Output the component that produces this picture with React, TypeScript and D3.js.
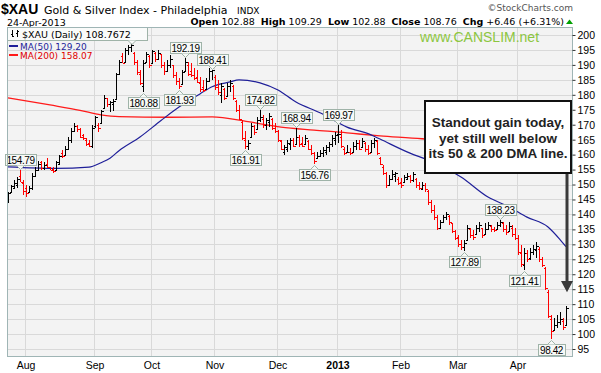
import React, { useEffect, useRef } from 'react';
import * as d3 from 'd3';

// daily bars, 24-Jul-2012 .. 24-Apr-2013 (one per trading day)
const opens = [
  144.5, 147.5, 149, 150, 153, 150.5, 149, 147.5, 149, 153, 155, 157.5, 155.5, 157, 155.8, 155.2, 155, 157, 160.5, 160,
  162, 165, 168, 169.5, 168.5, 166.5, 165, 164, 163, 169.5, 170, 170.5, 175.6, 179, 177, 177, 178.5, 187, 193, 191,
  195, 196, 194, 191, 187, 183, 191, 193, 190.5, 194, 192, 193.5, 190, 188, 190, 190, 186.5, 184.5, 183.5, 188,
  190, 188, 186.5, 186, 184, 182.5, 182, 184.5, 188, 186, 182.5, 180, 182, 179.5, 183, 183, 178, 175, 171, 165,
  163, 166, 169.5, 168.5, 171.5, 172, 170, 171, 172, 169, 168, 164.5, 161, 162, 163.5, 165, 163.5, 166, 164, 163.5,
  164.5, 162, 160.5, 159, 159.5, 160.5, 161, 162.5, 163.5, 165, 167, 166, 162, 160.9, 161, 161, 163, 164, 162.5, 164,
  162, 161, 164, 164.5, 159, 156, 154, 150, 152, 153, 152, 151, 151, 152, 153, 151.5, 152, 150, 148.5, 150,
  148, 144, 141.5, 139, 135.5, 137.5, 139, 139.5, 137, 134.5, 132.5, 130, 129, 131.5, 135, 133, 133.5, 135.5, 135.5, 133.5,
  135, 136, 135, 135, 136.5, 137, 135, 134.5, 135.5, 133.5, 132, 127, 123, 127, 125.5, 127.5, 128, 128.5, 125, 122,
  114, 105, 101.5, 103, 104, 104.5, 102.88
];
const highs = [
  147.5, 150, 151.5, 152.5, 154.79, 151.5, 150, 149.5, 153.8, 155.8, 158, 158, 157.5, 159, 156, 155.8, 158, 160, 161.5, 163,
  166, 169, 170.5, 170, 169, 167, 165.5, 165, 170, 173, 170.5, 175, 180, 179, 178, 178.5, 187.3, 191.6, 194, 195.5,
  196.7, 197.3, 194.3, 191.6, 188.3, 191.6, 194.3, 193.3, 195, 194.3, 195, 193.5, 191, 191.6, 193.3, 190, 187.6, 185.6, 188.3, 192.19,
  191, 190.6, 189, 188.3, 186, 185, 185.6, 189, 188.41, 186.6, 185, 184, 182.3, 184, 185, 183.3, 178.3, 176.6, 171.6, 168,
  164.9, 170.5, 170, 172.5, 174.82, 173.2, 172.2, 174, 172.2, 170.5, 168.2, 164.9, 163.2, 164.9, 165.5, 165.5, 168.94, 166.5, 165.8, 166.5,
  164.9, 163.2, 160.9, 160.9, 161.5, 162.5, 163.2, 164.2, 166.5, 167.5, 169.97, 168.2, 162.5, 163.2, 162.2, 164.2, 164.9, 164.9, 165.5, 164.2,
  163.2, 164.9, 165.5, 164.9, 159.2, 156.5, 154.2, 153.2, 154.8, 154.2, 152.5, 152.2, 153.2, 153.8, 153.2, 154.2, 152.2, 150.8, 150.8, 150.5,
  148.2, 144.8, 143.2, 139.8, 138.1, 139.8, 140.8, 139.8, 137.1, 134.8, 133.1, 131.4, 131.4, 136.5, 135.5, 134.8, 136.5, 137.5, 135.5, 137.1,
  137.5, 136.5, 135.8, 137.5, 138.23, 137.5, 136.5, 137.5, 136.5, 135.5, 133.1, 129.8, 128.8, 128.1, 128.8, 129.8, 130.8, 129.1, 125.8, 122.4,
  114.7, 106.4, 105.4, 106.4, 107.4, 105.4, 109.29
];
const lows = [
  143.8, 147.2, 148.5, 149, 150.8, 146.5, 145.8, 147, 148.2, 152.5, 154.8, 154.8, 155, 155.5, 154.8, 154, 154.5, 156.5, 159, 159.5,
  161.5, 164, 167.5, 167.5, 165.5, 165, 163, 162.5, 162.2, 169, 167.5, 170.5, 175.6, 176, 174.2, 174.5, 178.3, 186.6, 190.5, 191,
  193.3, 194.3, 190, 186.6, 183.3, 180.88, 191, 189, 190.5, 191, 192, 189, 186.6, 187.6, 189, 185.6, 183.3, 181.93, 183.3, 187.6,
  186.3, 186, 185, 184, 181, 181, 181.6, 184.3, 185, 181.6, 180, 177.3, 178.3, 179.3, 181, 178.3, 174.3, 171.6, 164.9, 161.91,
  161.5, 165.8, 166.5, 168.2, 171, 169, 168.2, 169.2, 168.2, 167.2, 164.2, 161.5, 159.9, 160.9, 161.5, 162.5, 163.2, 162.5, 162.5, 163.2,
  161.5, 159.9, 156.76, 158.9, 159.2, 159.2, 159.9, 160.9, 162.5, 163.2, 163.9, 162.2, 159.9, 160.9, 159.9, 160.9, 161.5, 161.5, 162.5, 160.9,
  159.9, 160.9, 162.2, 159.9, 156.5, 153.2, 148.8, 149.8, 151.5, 150.8, 149.8, 148.8, 150.8, 151.5, 150.5, 150.8, 148.8, 148.2, 148.2, 147.5,
  143.2, 140.5, 138.1, 134.8, 135.5, 137.1, 138.1, 136.5, 133.8, 131.4, 129.1, 128.1, 127.89, 131.4, 132.1, 131.4, 133.1, 134.1, 132.1, 133.1,
  134.8, 134.1, 134.1, 134.8, 135.8, 134.1, 133.1, 134.1, 132.5, 131.4, 126.4, 122.4, 121.41, 124.1, 124.8, 126.4, 125.4, 124.1, 122.4, 114.7,
  105.4, 98.42, 101.4, 102, 103, 101.4, 102.88
];
const closes = [
  147, 149.5, 150.5, 152, 151, 148, 147, 149, 153, 155, 157, 155.5, 156.5, 156, 155, 154.5, 157.5, 159.5, 159.4, 162,
  165, 168, 169.5, 168.5, 166, 165.5, 163.5, 163, 169, 172.5, 169, 174.5, 179, 177, 177.5, 178, 187, 191, 190.8, 195,
  196, 196.5, 191, 187.5, 184, 190.5, 193.5, 190, 194.5, 192, 194, 190, 188, 190, 192, 186.5, 184.5, 183, 187.5, 191,
  187, 186.5, 185.5, 184.3, 182, 181.5, 184.5, 188, 188.2, 182.5, 181, 183, 179, 183, 184, 179, 175, 172, 165.5, 163,
  164, 169.5, 167.5, 171.5, 172.5, 170, 171.5, 173, 169, 168, 165, 162, 162.5, 164, 165, 163, 166, 163.5, 163, 165.5,
  162, 160.5, 158, 159.5, 160.5, 161.5, 162.5, 163.5, 165.5, 166.5, 167, 163, 160.5, 161, 160.5, 163, 164, 162, 164.5, 162,
  160.5, 164, 165, 160.5, 157, 154, 150, 152, 153.5, 153.8, 150.5, 150, 152.5, 153, 151.5, 153.5, 150, 149, 150, 148.5,
  144, 141.5, 139, 135.5, 137.5, 139, 140, 137.5, 134.5, 132, 130, 129, 130.5, 135.5, 133, 132.5, 135.5, 136.5, 133, 135,
  136.5, 135, 134.8, 136.5, 137.5, 135, 134, 136, 133.5, 132, 127.5, 123.5, 127, 125, 127.5, 128.5, 129.5, 125, 123, 115.5,
  106, 101, 103, 104, 105, 102.3, 108.76
];

// moving averages at a handful of bars
const ma50Idx = [0, 16, 27, 31, 34, 37, 44, 51, 57, 64, 68, 74, 77, 84, 90, 96, 104, 113, 121, 124, 134, 140, 151, 160, 167, 173, 180, 184, 186];
const ma50Val = [155.9, 155.4, 155.8, 157.3, 158.8, 161.3, 165.9, 171.4, 175.9, 180.3, 182.7, 184.3, 185, 184, 181.6, 177.6, 174, 169.2, 166.6, 165.2, 160.5, 158.2, 152.5, 145.8, 142.5, 139.1, 135.8, 131.6, 129.2];
const ma200Idx = [0, 14, 24, 31, 37, 54, 68, 80, 91, 102, 113, 117, 124, 138, 160, 186];
const ma200Val = [179, 176.6, 174.8, 173.3, 172.7, 172.5, 172.6, 171, 169.2, 168.2, 167.3, 166.9, 166.3, 165.3, 162.5, 158.07];

const monthLabels = ['Aug', 'Sep', 'Oct', 'Nov', 'Dec', '2013', 'Feb', 'Mar', 'Apr'];
const monthStarts = [6, 29, 48, 69, 90, 110, 131, 150, 170];
const priceTicks = [95, 100, 105, 110, 115, 120, 125, 130, 135, 140, 145, 150, 155, 160, 165, 170, 175, 180, 185, 190, 195, 200];

const swingIdx = [4, 45, 57, 59, 68, 79, 84, 96, 102, 110, 152, 164, 172, 181];
const swingVal = [154.79, 180.88, 181.93, 192.19, 188.41, 161.91, 174.82, 168.94, 156.76, 169.97, 127.89, 138.23, 121.41, 98.42];
const swingHigh = [true, false, false, true, true, false, true, true, false, true, false, true, false, false];

const noteLines = ['Standout gain today,', 'yet still well below', 'its 50 & 200 DMA line.'];

const W = 601, H = 373;
const L = 7, R = 573, T = 27, B = 357;
const SANS = 'Arial, "Liberation Sans", sans-serif';
const VERD = '"DejaVu Sans", Verdana, sans-serif';

function drawChart(node: SVGSVGElement) {
  const svg = d3.select(node);
  svg.selectAll('*').remove();

  const x = d3.scaleLinear().domain([0, closes.length - 1]).range([8, 8 + 3 * (closes.length - 1)]);
  const y = d3.scaleLinear().domain([95, 200]).range([349, 35]);

  svg.append('rect').attr('width', W).attr('height', H).attr('fill', '#fff');

  // header
  const head = svg.append('g');
  head.append('text').attr('x', 1).attr('y', 14).attr('font-family', SANS).attr('font-weight', 'bold')
    .attr('font-size', 14).text('$XAU');
  head.append('text').attr('x', 44).attr('y', 14).attr('font-family', VERD).attr('font-size', 11)
    .text('Gold & Silver Index - Philadelphia');
  head.append('text').attr('x', 237).attr('y', 14).attr('font-family', VERD).attr('font-size', 9).text('INDX');
  head.append('text').attr('x', 7).attr('y', 25.5).attr('font-family', VERD).attr('font-size', 9.5).text('24-Apr-2013');
  head.append('text').attr('x', 573).attr('y', 11).attr('text-anchor', 'end').attr('font-family', VERD)
    .attr('font-size', 9).attr('fill', '#555').text('\u00a9StockCharts.com');

  const info = head.append('text').attr('x', 564).attr('y', 25).attr('text-anchor', 'end')
    .attr('font-family', VERD).attr('font-size', 9.5);
  const parts: [string, boolean][] = [
    ['Open', true], [' 102.88  ', false], ['High', true], [' 109.29  ', false], ['Low', true], [' 102.88  ', false],
    ['Close', true], [' 108.76  ', false], ['Chg', true], [' +6.46 (+6.31%)', false]
  ];
  parts.forEach(([s, b]) => {
    info.append('tspan').attr('font-weight', b ? 'bold' : 'normal').attr('xml:space', 'preserve').text(s);
  });
  head.append('path').attr('d', 'M566,24 L569.5,19.5 L573,24 Z').attr('fill', '#00a000');

  // plot area
  svg.append('rect').attr('x', L).attr('y', T).attr('width', R - L).attr('height', B - T).attr('fill', '#f3f3f3');

  svg.append('defs').append('clipPath').attr('id', 'plotclip')
    .append('rect').attr('x', L).attr('y', T).attr('width', R - L).attr('height', B - T);

  const grid = svg.append('g').attr('shape-rendering', 'crispEdges');
  grid.selectAll('line.h').data(priceTicks).enter().append('line')
    .attr('x1', L).attr('x2', R).attr('y1', d => Math.round(y(d)) + 0.5).attr('y2', d => Math.round(y(d)) + 0.5)
    .attr('stroke', '#d9d9d9');
  grid.selectAll('line.v').data(monthStarts).enter().append('line')
    .attr('x1', d => x(d) - 0.5).attr('x2', d => x(d) - 0.5).attr('y1', T).attr('y2', B)
    .attr('stroke', '#d9d9d9');

  svg.append('text').attr('x', 420).attr('y', 42).attr('font-family', SANS).attr('font-size', 14)
    .attr('fill', '#8cc63f').text('www.CANSLIM.net');

  const plot = svg.append('g').attr('clip-path', 'url(#plotclip)');

  const maLine = d3.line<[number, number]>().x(d => x(d[0])).y(d => y(d[1])).curve(d3.curveMonotoneX);
  plot.append('path').attr('d', maLine(ma200Idx.map((d, i) => [d, ma200Val[i]]) as [number, number][]))
    .attr('fill', 'none').attr('stroke', '#ff1a1a').attr('stroke-width', 1.3);
  plot.append('path').attr('d', maLine(ma50Idx.map((d, i) => [d, ma50Val[i]]) as [number, number][]))
    .attr('fill', 'none').attr('stroke', '#1f1f99').attr('stroke-width', 1.2);

  // OHLC bars
  const bars = plot.append('g').attr('shape-rendering', 'crispEdges');
  closes.forEach((c, i) => {
    const col = i === 0 || c >= closes[i - 1] ? '#000' : '#ff0000';
    const cx = x(i) + 0.5;
    const g = bars.append('g').attr('stroke', col).attr('stroke-width', 1);
    g.append('line').attr('x1', cx).attr('x2', cx).attr('y1', y(highs[i])).attr('y2', y(lows[i]));
    g.append('line').attr('x1', cx - 2).attr('x2', cx).attr('y1', Math.round(y(opens[i])) + 0.5).attr('y2', Math.round(y(opens[i])) + 0.5);
    g.append('line').attr('x1', cx).attr('x2', cx + 2).attr('y1', Math.round(y(c)) + 0.5).attr('y2', Math.round(y(c)) + 0.5);
  });

  // swing labels
  const lab = svg.append('g');
  swingIdx.forEach((idx, k) => {
    const v = swingVal[k];
    const cx = x(idx) + 0.5;
    const py = y(v);
    const txt = v.toFixed(2);
    const bw = txt.length > 5 ? 31 : 27;
    const bh = 11;
    const top = swingHigh[k] ? py - 5 - bh : py + 5;
    const g = lab.append('g');
    g.append('rect').attr('x', Math.round(cx - bw / 2) + 0.5).attr('y', Math.round(top) + 0.5)
      .attr('width', bw).attr('height', bh).attr('fill', '#f7f9f7').attr('stroke', '#9fb3a8');
    const edge = swingHigh[k] ? Math.round(top + bh) + 0.5 : Math.round(top) + 0.5;
    const tip = swingHigh[k] ? edge + 4 : edge - 4;
    g.append('path').attr('d', `M${cx - 4},${edge} L${cx},${tip} L${cx + 4},${edge}`)
      .attr('fill', '#f7f9f7').attr('stroke', '#9fb3a8');
    g.append('text').attr('x', cx).attr('y', Math.round(top) + 9.5).attr('text-anchor', 'middle')
      .attr('font-family', SANS).attr('font-size', 10).attr('letter-spacing', -0.4).text(txt);
  });

  // legend
  const lg = svg.append('g');
  lg.append('rect').attr('x', 7.5).attr('y', 27.5).attr('width', 140).attr('height', 13)
    .attr('fill', '#fafbfa').attr('stroke', '#9fb3a8');
  lg.append('path').attr('d', 'M128,40.5 L132,44.5 L136,40.5').attr('fill', '#fafbfa').attr('stroke', '#9fb3a8');
  const ic = lg.append('g').attr('stroke', '#000').attr('shape-rendering', 'crispEdges');
  ic.append('line').attr('x1', 12.5).attr('x2', 12.5).attr('y1', 30).attr('y2', 37);
  ic.append('line').attr('x1', 11).attr('x2', 12.5).attr('y1', 34.5).attr('y2', 34.5);
  ic.append('line').attr('x1', 12.5).attr('x2', 14).attr('y1', 36.5).attr('y2', 36.5);
  ic.append('line').attr('x1', 17.5).attr('x2', 17.5).attr('y1', 30).attr('y2', 37);
  ic.append('line').attr('x1', 16).attr('x2', 17.5).attr('y1', 33.5).attr('y2', 33.5);
  ic.append('line').attr('x1', 17.5).attr('x2', 19).attr('y1', 31.5).attr('y2', 31.5);
  lg.append('text').attr('x', 22).attr('y', 37.5).attr('font-family', VERD).attr('font-size', 9.5)
    .text('$XAU (Daily) 108.7672');
  lg.append('line').attr('x1', 9).attr('x2', 18).attr('y1', 46).attr('y2', 46).attr('stroke', '#1f1f99').attr('stroke-width', 2);
  lg.append('text').attr('x', 20).attr('y', 49.5).attr('font-family', VERD).attr('font-size', 9)
    .attr('fill', '#1f1f99').text('MA(50) 129.20');
  lg.append('line').attr('x1', 9).attr('x2', 18).attr('y1', 55).attr('y2', 55).attr('stroke', '#ff1a1a').attr('stroke-width', 2);
  lg.append('text').attr('x', 20).attr('y', 58.5).attr('font-family', VERD).attr('font-size', 9)
    .attr('fill', '#e00000').text('MA(200) 158.07');

  // frame + axes
  svg.append('rect').attr('x', L + 0.5).attr('y', T + 0.5).attr('width', R - L - 1).attr('height', B - T - 1)
    .attr('fill', 'none').attr('stroke', '#9fb5b5');

  const yAxis = svg.append('g').attr('transform', `translate(${R - 0.5},0)`)
    .call(d3.axisRight(y).tickValues(priceTicks).tickSize(3).tickPadding(2));
  yAxis.select('.domain').remove();
  yAxis.selectAll('line').attr('stroke', '#333');
  yAxis.selectAll('text').attr('font-family', SANS).attr('font-size', 10.5).attr('fill', '#000');

  svg.append('g').selectAll('text').data(monthLabels).enter().append('text')
    .attr('x', (d, i) => x(monthStarts[i])).attr('y', 369).attr('text-anchor', 'middle')
    .attr('font-family', SANS).attr('font-size', 10.5).attr('font-weight', d => d === '2013' ? 'bold' : 'normal')
    .text(d => d);

  // note box and arrow
  const last = closes.length - 1;
  const ax = x(last) + 1;
  svg.append('line').attr('x1', ax).attr('x2', ax).attr('y1', 174).attr('y2', 284)
    .attr('stroke', '#3a3a3a').attr('stroke-width', 3);
  svg.append('path').attr('d', `M${ax - 6},281 L${ax + 6},281 L${ax},${y(highs[last]) - 14} Z`).attr('fill', '#3a3a3a');

  svg.append('rect').attr('x', 425).attr('y', 101).attr('width', 146).attr('height', 72)
    .attr('fill', '#fff').attr('stroke', '#111').attr('stroke-width', 2);
  svg.append('g').selectAll('text').data(noteLines).enter().append('text')
    .attr('x', 498).attr('y', (d, i) => 127 + i * 15.5).attr('text-anchor', 'middle')
    .attr('font-family', SANS).attr('font-weight', 'bold').attr('font-size', 13.5).attr('fill', '#222')
    .text(d => d);
}

export default function App() {
  const ref = useRef<SVGSVGElement>(null);

  useEffect(() => {
    if (ref.current) drawChart(ref.current);
  }, []);

  return (
    <svg ref={ref} width={W} height={H}
         style={{ position: 'absolute', left: 0, top: 0, display: 'block' }} />
  );
}
